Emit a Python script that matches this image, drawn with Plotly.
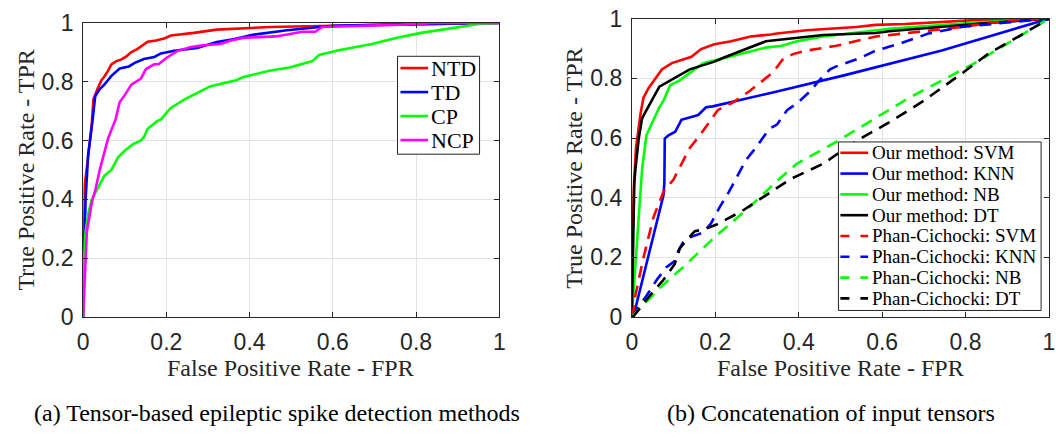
import plotly.graph_objects as go

# ---- (a) tensor-based spike detection ROC curves ----
ntd_fpr = [0, 0.002, 0.004, 0.01, 0.021, 0.025, 0.03, 0.036, 0.044, 0.05, 0.059, 0.068, 0.08, 0.091, 0.104, 0.115,
           0.131, 0.155, 0.175, 0.195, 0.211, 0.24, 0.266, 0.321, 0.36, 0.45, 0.6, 0.76, 1.0]
ntd_tpr = [0, 0.3, 0.45, 0.52, 0.66, 0.741, 0.76, 0.78, 0.805, 0.815, 0.835, 0.859, 0.87, 0.875, 0.886, 0.9,
           0.912, 0.936, 0.94, 0.947, 0.957, 0.961, 0.966, 0.977, 0.979, 0.986, 0.99, 0.995, 1.0]

td_fpr = [0, 0.002, 0.006, 0.012, 0.022, 0.029, 0.04, 0.051, 0.068, 0.088, 0.11, 0.124, 0.146, 0.171, 0.187,
          0.219, 0.274, 0.321, 0.361, 0.41, 0.49, 0.566, 0.6, 0.75, 1.0]
td_tpr = [0, 0.2, 0.4, 0.55, 0.66, 0.75, 0.775, 0.79, 0.82, 0.845, 0.852, 0.864, 0.877, 0.884, 0.896,
          0.905, 0.915, 0.935, 0.944, 0.96, 0.975, 0.986, 0.99, 0.995, 1.0]

cp_fpr = [0, 0.002, 0.006, 0.012, 0.021, 0.036, 0.051, 0.068, 0.084, 0.1, 0.119, 0.139, 0.147, 0.155, 0.178,
          0.187, 0.2, 0.21, 0.245, 0.273, 0.305, 0.337, 0.368, 0.385, 0.416, 0.447, 0.496, 0.551, 0.567, 0.614,
          0.694, 0.757, 0.812, 0.891, 0.955, 1.0]
cp_tpr = [0, 0.2, 0.29, 0.35, 0.4, 0.438, 0.48, 0.5, 0.543, 0.565, 0.587, 0.6, 0.614, 0.64, 0.666,
          0.672, 0.693, 0.71, 0.741, 0.762, 0.784, 0.795, 0.805, 0.816, 0.827, 0.837, 0.848, 0.87, 0.891, 0.907,
          0.928, 0.95, 0.966, 0.982, 0.997, 1.0]

ncp_fpr = [0, 0.002, 0.005, 0.009, 0.021, 0.03, 0.04, 0.06, 0.078, 0.084, 0.088, 0.099, 0.116, 0.139, 0.151,
           0.171, 0.182, 0.199, 0.226, 0.257, 0.282, 0.33, 0.353, 0.384, 0.463, 0.527, 0.558, 0.574, 0.764, 0.843, 1.0]
ncp_tpr = [0, 0.074, 0.2, 0.29, 0.39, 0.436, 0.5, 0.607, 0.672, 0.715, 0.731, 0.752, 0.79, 0.811, 0.843,
           0.859, 0.86, 0.88, 0.904, 0.917, 0.923, 0.928, 0.939, 0.949, 0.954, 0.97, 0.97, 0.986, 0.994, 1.0, 1.0]

# ---- (b) concatenated input tensors: our method ----
svm_fpr = [0, 0.002, 0.005, 0.01, 0.021, 0.028, 0.04, 0.056, 0.072, 0.096, 0.119, 0.143, 0.166, 0.198, 0.238,
           0.285, 0.333, 0.348, 0.419, 0.538, 0.585, 0.656, 0.822, 1.0]
svm_tpr = [0, 0.283, 0.44, 0.567, 0.682, 0.735, 0.767, 0.798, 0.83, 0.851, 0.861, 0.872, 0.898, 0.914, 0.924,
           0.94, 0.947, 0.95, 0.961, 0.972, 0.979, 0.982, 0.995, 1.0]

knn_fpr = [0, 0.009, 0.076, 0.078, 0.079, 0.088, 0.104, 0.119, 0.159, 0.178, 0.194, 0.246, 0.317, 0.348, 0.506,
           0.743, 1.0]
knn_tpr = [0, 0.031, 0.409, 0.45, 0.598, 0.609, 0.621, 0.661, 0.677, 0.703, 0.706, 0.724, 0.746, 0.756, 0.809,
           0.893, 1.0]

nb_fpr = [0, 0.001, 0.0126, 0.0245, 0.035, 0.055, 0.066, 0.076, 0.092, 0.115, 0.139, 0.171, 0.202, 0.25, 0.297,
          0.321, 0.36, 0.396, 0.459, 0.585, 0.617, 0.822, 1.0]
nb_tpr = [0, 0.02, 0.283, 0.493, 0.609, 0.672, 0.703, 0.725, 0.777, 0.793, 0.819, 0.851, 0.861, 0.877, 0.893,
          0.903, 0.909, 0.924, 0.94, 0.961, 0.966, 0.987, 1.0]

dt_fpr = [0, 0.002, 0.003, 0.006, 0.009, 0.0166, 0.0245, 0.03, 0.066, 0.139, 0.198, 0.218, 0.321, 0.36, 0.459,
          0.585, 0.617, 0.822, 1.0]
dt_tpr = [0, 0.2, 0.32, 0.45, 0.5, 0.598, 0.665, 0.68, 0.772, 0.83, 0.856, 0.868, 0.924, 0.93, 0.945,
          0.952, 0.958, 0.982, 1.0]

# ---- (b) concatenated input tensors: Phan-Cichocki ----
psvm_fpr = [0, 0.003, 0.0087, 0.028, 0.052, 0.076, 0.1, 0.119, 0.139, 0.163, 0.186, 0.206, 0.218, 0.242, 0.281,
            0.305, 0.329, 0.344, 0.36, 0.372, 0.388, 0.419, 0.49, 0.585, 0.695, 0.79, 0.9, 1.0]
psvm_tpr = [0, 0.01, 0.073, 0.199, 0.335, 0.42, 0.461, 0.514, 0.567, 0.609, 0.655, 0.693, 0.703, 0.719, 0.756,
            0.782, 0.809, 0.83, 0.861, 0.872, 0.882, 0.893, 0.909, 0.94, 0.956, 0.972, 0.993, 1.0]

pknn_fpr = [0, 0.005, 0.036, 0.06, 0.083, 0.103, 0.111, 0.123, 0.139, 0.171, 0.19, 0.21, 0.233, 0.253, 0.273,
            0.297, 0.313, 0.329, 0.348, 0.372, 0.396, 0.427, 0.451, 0.475, 0.49, 0.545, 0.585, 0.648, 0.711,
            0.79, 0.9, 1.0]
pknn_tpr = [0, 0.01, 0.073, 0.125, 0.167, 0.188, 0.22, 0.251, 0.267, 0.283, 0.314, 0.367, 0.42, 0.472, 0.525,
            0.567, 0.598, 0.63, 0.645, 0.693, 0.716, 0.756, 0.796, 0.83, 0.84, 0.867, 0.893, 0.919, 0.95,
            0.972, 0.987, 1.0]

pnb_fpr = [0, 0.0126, 0.076, 0.123, 0.202, 0.281, 0.352, 0.396, 0.491, 0.665, 0.822, 1.0]
pnb_tpr = [0, 0.02, 0.109, 0.167, 0.272, 0.367, 0.461, 0.514, 0.588, 0.735, 0.851, 1.0]

pdt_fpr = [0, 0.005, 0.044, 0.076, 0.103, 0.115, 0.127, 0.151, 0.171, 0.202, 0.265, 0.344, 0.38, 0.459, 0.538,
           0.62, 0.7, 0.79, 0.854, 0.933, 1.0]
pdt_tpr = [0, 0.004, 0.073, 0.125, 0.178, 0.23, 0.251, 0.288, 0.293, 0.309, 0.356, 0.43, 0.462, 0.514, 0.59,
           0.655, 0.725, 0.815, 0.882, 0.945, 1.0]

tick_vals = [0, 0.2, 0.4, 0.6, 0.8, 1]
tick_text = ["0", "0.2", "0.4", "0.6", "0.8", "1"]

RED, BLUE, GREEN, MAGENTA, BLACK = "#ff0000", "#0000ff", "#00ff00", "#ff00ff", "#000000"
AX = "#262626"
SERIF = "Liberation Serif"
SANS = "Liberation Sans"
LW = 2.6
DASH = "12px,8px"
LEGEND_DASH = "9px,11px"

W, H = 1056, 443


def px_x(p):
    return p / W


def px_y(p):
    return (H - p) / H


fig = go.Figure()

left = [("NTD", ntd_fpr, ntd_tpr, RED, "solid"), ("TD", td_fpr, td_tpr, BLUE, "solid"),
        ("CP", cp_fpr, cp_tpr, GREEN, "solid"), ("NCP", ncp_fpr, ncp_tpr, MAGENTA, "solid")]
for name, x, y, c, d in left:
    fig.add_trace(go.Scatter(x=x, y=y, mode="lines", name=name, line=dict(color=c, width=LW),
                             xaxis="x", yaxis="y", showlegend=False))

right = [("Our method: SVM", svm_fpr, svm_tpr, RED, "solid"),
         ("Our method: KNN", knn_fpr, knn_tpr, BLUE, "solid"),
         ("Our method: NB", nb_fpr, nb_tpr, GREEN, "solid"),
         ("Our method: DT", dt_fpr, dt_tpr, BLACK, "solid"),
         ("Phan-Cichocki: SVM", psvm_fpr, psvm_tpr, RED, "dash"),
         ("Phan-Cichocki: KNN", pknn_fpr, pknn_tpr, BLUE, "dash"),
         ("Phan-Cichocki: NB", pnb_fpr, pnb_tpr, GREEN, "dash"),
         ("Phan-Cichocki: DT", pdt_fpr, pdt_tpr, BLACK, "dash")]
for name, x, y, c, d in right:
    fig.add_trace(go.Scatter(x=x, y=y, mode="lines", name=name,
                             line=dict(color=c, width=LW, dash=DASH if d == "dash" else "solid"),
                             xaxis="x2", yaxis="y2", showlegend=False))

axis_common = dict(range=[0, 1], tickvals=tick_vals, ticktext=tick_text, showgrid=True,
                   gridcolor="#e3e3e3", gridwidth=1, zeroline=False, showline=True, linecolor=AX,
                   linewidth=1, mirror="allticks", ticks="inside", ticklen=5, tickcolor=AX,
                   ticklabeloverflow="allow",
                   tickfont=dict(family=SANS, size=23, color=AX), fixedrange=True)

fig.update_layout(
    width=W, height=H, margin=dict(l=0, r=0, t=0, b=0),
    paper_bgcolor="white", plot_bgcolor="white", showlegend=False,
    xaxis=dict(axis_common, domain=[px_x(78), px_x(499)], anchor="y", ticklabelstandoff=4),
    yaxis=dict(axis_common, domain=[px_y(323), px_y(10.5)], anchor="x", ticklabelstandoff=4),
    xaxis2=dict(axis_common, domain=[px_x(633), px_x(1055)], anchor="y2", ticklabelstandoff=4),
    yaxis2=dict(axis_common, domain=[px_y(323), px_y(6)], anchor="x2", ticklabelstandoff=4),
)


def draw_legend(entries, box, first_y, step, sample, text_x, size):
    """Boxed legend: line samples plus labels, laid over the axes."""
    x0, x1, y0, y1 = box
    fig.add_shape(type="rect", xref="paper", yref="paper", layer="above",
                  x0=px_x(x0), x1=px_x(x1), y0=px_y(y1), y1=px_y(y0),
                  line=dict(color=AX, width=1), fillcolor="white")
    for i, (name, _, _, c, d) in enumerate(entries):
        yc = first_y + i * step
        fig.add_shape(type="line", xref="paper", yref="paper", layer="above",
                      x0=px_x(sample[0]), x1=px_x(sample[1]), y0=px_y(yc), y1=px_y(yc),
                      line=dict(color=c, width=LW, dash=LEGEND_DASH if d == "dash" else "solid"))
        fig.add_annotation(text=name, xref="paper", yref="paper", x=px_x(text_x), y=px_y(yc),
                           xanchor="left", yanchor="middle", showarrow=False,
                           font=dict(family=SERIF, size=size, color="black"))


draw_legend(left, (396, 479, 46, 150), 58.5, 25.5, (399, 427), 428, 22)
draw_legend(right, (842, 1047, 137, 316), 148.5, 22.1, (844, 872), 874, 19)

title_font = dict(family=SERIF, size=24, color=AX)
cap_font = dict(family=SERIF, size=24, color="black")
annos = [
    dict(text="False Positive Rate - FPR", x=px_x(288), y=px_y(377), font=title_font),
    dict(text="True Positive Rate - TPR", x=px_x(20), y=px_y(166.5), font=title_font, textangle=-90),
    dict(text="False Positive Rate - FPR", x=px_x(844), y=px_y(377), font=title_font),
    dict(text="True Positive Rate - TPR", x=px_x(575), y=px_y(165), font=title_font, textangle=-90),
    dict(text="(a) Tensor-based epileptic spike detection methods", x=px_x(274.5), y=px_y(425), font=cap_font),
    dict(text="(b) Concatenation of input tensors", x=px_x(834.5), y=px_y(425), font=cap_font),
]
for a in annos:
    fig.add_annotation(xref="paper", yref="paper", xanchor="center", yanchor="middle",
                       showarrow=False, **a)

fig.write_html("out.html")
